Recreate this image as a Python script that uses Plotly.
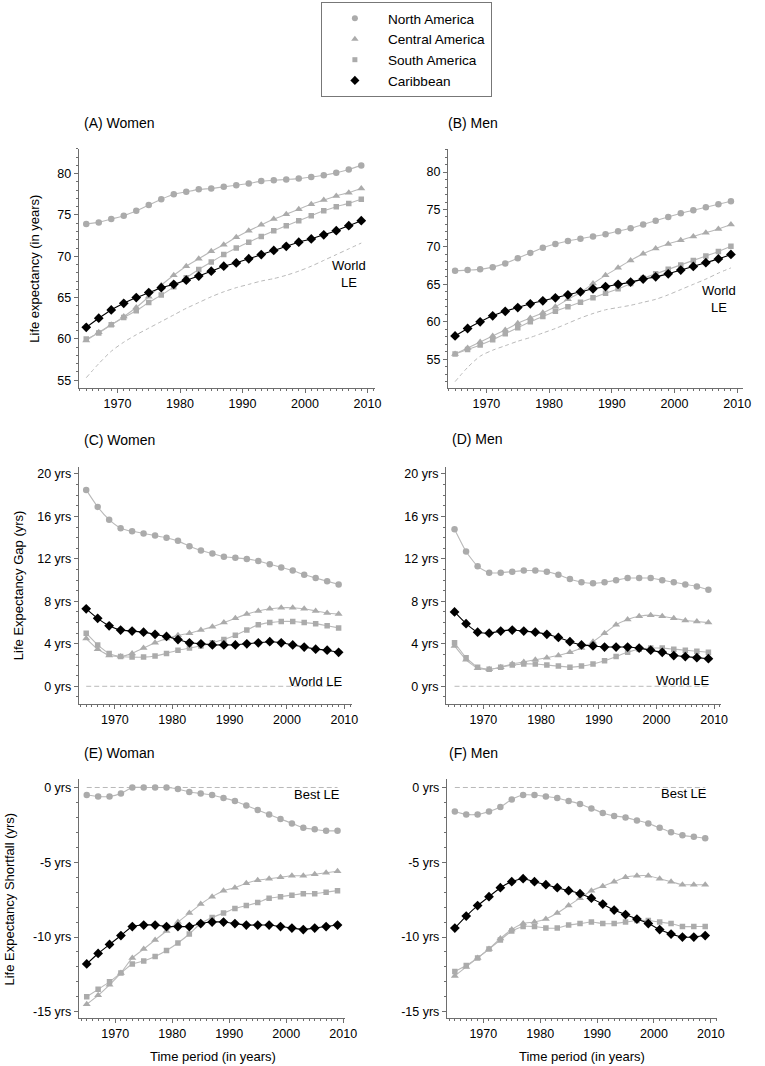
import plotly.graph_objects as go

# ---------------- data ----------------
years = list(range(1965, 2010, 2))
ref_years = [1965, 2009]
ref_zero = [0, 0]

series_names = ["North America", "Central America", "South America", "Caribbean"]

# (A) Women - life expectancy
na_w = [73.9, 74.1, 74.5, 74.9, 75.5, 76.2, 76.9, 77.5, 77.8, 78.1, 78.2, 78.4,
        78.6, 78.8, 79.1, 79.2, 79.3, 79.4, 79.6, 79.8, 80.1, 80.5, 81.0]
ca_w = [59.8, 60.8, 61.7, 62.7, 63.8, 65.1, 66.5, 67.7, 68.8, 69.7, 70.6, 71.4,
        72.3, 73.1, 73.8, 74.5, 75.1, 75.7, 76.3, 76.8, 77.3, 77.7, 78.2]
sa_w = [60.0, 60.7, 61.7, 62.6, 63.4, 64.4, 65.3, 66.3, 67.4, 68.4, 69.3, 70.2,
        71.0, 71.7, 72.4, 73.1, 73.7, 74.3, 74.9, 75.5, 76.0, 76.4, 76.9]
cb_w = [61.4, 62.5, 63.5, 64.3, 65.0, 65.6, 66.2, 66.6, 67.1, 67.6, 68.2, 68.8,
        69.2, 69.7, 70.2, 70.7, 71.2, 71.7, 72.1, 72.6, 73.1, 73.7, 74.3]
world_w = [55.3, 57.0, 58.5, 59.6, 60.5, 61.3, 62.1, 62.9, 63.7, 64.4, 65.1, 65.7,
           66.2, 66.6, 67.0, 67.3, 67.7, 68.2, 68.8, 69.5, 70.2, 70.9, 71.6]

# (B) Men - life expectancy
na_m = [66.8, 66.9, 67.0, 67.3, 67.8, 68.5, 69.2, 69.9, 70.4, 70.8, 71.1, 71.4,
        71.7, 72.1, 72.5, 73.0, 73.5, 74.0, 74.5, 74.9, 75.3, 75.7, 76.1]
ca_m = [55.7, 56.5, 57.3, 58.1, 58.9, 59.8, 60.5, 61.2, 62.0, 63.0, 63.9, 65.1,
        66.2, 67.2, 68.2, 69.1, 69.8, 70.4, 70.9, 71.4, 71.9, 72.4, 73.0]
sa_m = [55.7, 56.3, 56.9, 57.6, 58.4, 59.2, 60.0, 60.7, 61.4, 62.0, 62.6, 63.2,
        63.8, 64.4, 65.1, 65.8, 66.4, 67.0, 67.6, 68.2, 68.8, 69.4, 70.1]
cb_m = [58.1, 59.1, 60.0, 60.8, 61.4, 61.9, 62.4, 62.8, 63.2, 63.6, 64.0, 64.4,
        64.7, 65.0, 65.3, 65.7, 66.0, 66.4, 66.9, 67.4, 67.9, 68.4, 69.0]
world_m = [52.0, 53.9, 55.4, 56.2, 56.8, 57.4, 57.9, 58.5, 59.1, 59.8, 60.5, 61.1,
           61.6, 61.9, 62.2, 62.6, 63.0, 63.6, 64.3, 65.0, 65.7, 66.5, 67.2]

# (C) Women - gap to world LE
na_wg = [18.5, 16.9, 15.7, 14.9, 14.6, 14.4, 14.2, 14.0, 13.7, 13.2, 12.8, 12.5,
         12.2, 12.1, 12.0, 11.8, 11.5, 11.2, 10.9, 10.5, 10.2, 9.9, 9.6]
ca_wg = [4.5, 3.5, 2.9, 2.8, 3.1, 3.6, 4.1, 4.5, 4.8, 5.0, 5.3, 5.6,
         6.0, 6.4, 6.8, 7.1, 7.3, 7.4, 7.4, 7.3, 7.1, 6.9, 6.8]
sa_wg = [5.0, 3.9, 3.1, 2.8, 2.75, 2.75, 2.85, 3.1, 3.4, 3.6, 3.8, 4.1,
         4.4, 4.8, 5.3, 5.8, 6.0, 6.1, 6.1, 6.0, 5.9, 5.7, 5.5]
cb_wg = [7.3, 6.4, 5.7, 5.3, 5.2, 5.1, 4.9, 4.7, 4.4, 4.1, 4.0, 3.9,
         3.9, 3.9, 4.0, 4.1, 4.2, 4.1, 3.9, 3.7, 3.5, 3.4, 3.2]

# (D) Men - gap to world LE
na_mg = [14.8, 12.7, 11.3, 10.7, 10.7, 10.8, 10.9, 10.9, 10.8, 10.5, 10.1, 9.8,
         9.7, 9.8, 10.0, 10.2, 10.2, 10.2, 10.0, 9.8, 9.6, 9.4, 9.1]
ca_mg = [3.8, 2.5, 1.7, 1.6, 1.8, 2.1, 2.3, 2.5, 2.7, 2.9, 3.2, 3.6,
         4.2, 5.0, 5.8, 6.3, 6.6, 6.7, 6.6, 6.4, 6.2, 6.1, 6.0]
sa_mg = [4.1, 2.7, 1.8, 1.6, 1.8, 2.0, 2.1, 2.1, 2.0, 1.9, 1.8, 1.9,
         2.1, 2.4, 2.8, 3.2, 3.5, 3.6, 3.6, 3.5, 3.4, 3.3, 3.2]
cb_mg = [7.0, 5.9, 5.1, 5.0, 5.2, 5.3, 5.2, 5.1, 4.9, 4.6, 4.2, 3.9,
         3.8, 3.7, 3.7, 3.7, 3.6, 3.4, 3.2, 2.9, 2.8, 2.7, 2.6]

# (E) Women - shortfall from best LE
na_ws = [-0.5, -0.6, -0.6, -0.4, 0.0, 0.0, 0.0, 0.0, -0.1, -0.3, -0.4, -0.5,
         -0.7, -0.9, -1.2, -1.5, -1.8, -2.1, -2.4, -2.7, -2.8, -2.9, -2.9]
ca_ws = [-14.5, -13.9, -13.2, -12.4, -11.4, -10.8, -10.2, -9.6, -9.0, -8.4, -7.8, -7.3,
         -6.9, -6.7, -6.4, -6.2, -6.1, -6.0, -5.9, -5.9, -5.8, -5.7, -5.6]
sa_ws = [-14.0, -13.5, -13.0, -12.4, -11.8, -11.6, -11.3, -10.9, -10.4, -9.8, -9.1, -8.7,
         -8.4, -8.1, -7.9, -7.7, -7.4, -7.3, -7.2, -7.1, -7.1, -7.0, -6.9]
cb_ws = [-11.8, -11.1, -10.5, -9.9, -9.3, -9.2, -9.2, -9.3, -9.3, -9.3, -9.1, -9.0,
         -9.0, -9.1, -9.2, -9.2, -9.2, -9.3, -9.4, -9.5, -9.4, -9.3, -9.2]

# (F) Men - shortfall from best LE
na_ms = [-1.6, -1.8, -1.8, -1.6, -1.3, -0.8, -0.5, -0.5, -0.6, -0.7, -0.9, -1.1,
         -1.4, -1.7, -1.9, -2.0, -2.2, -2.4, -2.7, -3.0, -3.2, -3.3, -3.4]
ca_ms = [-12.6, -12.0, -11.4, -10.8, -10.1, -9.5, -9.1, -9.0, -8.8, -8.4, -7.9, -7.4,
         -6.9, -6.6, -6.3, -6.0, -5.9, -5.9, -6.1, -6.3, -6.5, -6.5, -6.5]
sa_ms = [-12.3, -11.9, -11.4, -10.8, -10.2, -9.6, -9.3, -9.3, -9.4, -9.4, -9.2, -9.1,
         -9.0, -9.1, -9.1, -9.0, -8.9, -8.9, -9.0, -9.1, -9.3, -9.3, -9.3]
cb_ms = [-9.4, -8.6, -7.9, -7.3, -6.7, -6.3, -6.1, -6.3, -6.5, -6.7, -6.9, -7.1,
         -7.4, -7.8, -8.2, -8.5, -8.8, -9.1, -9.5, -9.8, -10.0, -10.0, -9.9]

# tick labels
x_ticks = [1970, 1980, 1990, 2000, 2010]
le_ticks = [55, 60, 65, 70, 75, 80]
gap_ticks = [0, 4, 8, 12, 16, 20]
gap_labels = ["0 yrs", "4 yrs", "8 yrs", "12 yrs", "16 yrs", "20 yrs"]
sf_ticks = [-15, -10, -5, 0]
sf_labels = ["-15 yrs", "-10 yrs", "-5 yrs", "0 yrs"]

# ---------------- style ----------------
W, H = 765, 1066
FONT = "Liberation Sans, Arial, Helvetica, sans-serif"
GRAY = "#ababab"
LGRAY = "#b9b9b9"
AXC = "#6e6e6e"

styles = [
    dict(symbol="circle", size=6.5, color=GRAY, line=LGRAY),
    dict(symbol="triangle-up", size=7, color=GRAY, line=LGRAY),
    dict(symbol="square", size=5.5, color=GRAY, line=LGRAY),
    dict(symbol="diamond", size=7.5, color="#000000", line="#000000"),
]

def px_x(p):
    return p / W

def px_y(p):
    return 1 - p / H

panels = [
    dict(title="(A) Women", tpos=(83, 123), xd=(80, 381), yd=(149, 388),
         xr=(1963.8, 2011.2), yr=(54.1, 83.0), data=[na_w, ca_w, sa_w, cb_w],
         ref=("world", world_w), yt=le_ticks, ytl=[str(v) for v in le_ticks],
         ylab=("Life expectancy (in years)", 35), note=("World<br>LE", 355, 274, "center")),
    dict(title="(B) Men", tpos=(453, 123), xd=(455, 755), yd=(149, 388),
         xr=(1963.85, 2010.95), yr=(51.2, 83.1), data=[na_m, ca_m, sa_m, cb_m],
         ref=("world", world_m), yt=le_ticks, ytl=[str(v) for v in le_ticks],
         ylab=None, note=("World<br>LE", 730, 299, "center")),
    dict(title="(C) Women", tpos=(83, 440), xd=(80, 358), yd=(467, 705),
         xr=(1963.7, 2011.4), yr=(-1.7, 20.7), data=[na_wg, ca_wg, sa_wg, cb_wg],
         ref=("zero", None), yt=gap_ticks, ytl=gap_labels,
         ylab=("Life Expectancy Gap (yrs)", 19), note=("World LE", 350, 682, "right")),
    dict(title="(D) Men", tpos=(457, 439), xd=(453, 732), yd=(467, 705),
         xr=(1963.5, 2011.1), yr=(-1.7, 20.7), data=[na_mg, ca_mg, sa_mg, cb_mg],
         ref=("zero", None), yt=gap_ticks, ytl=gap_labels,
         ylab=None, note=("World LE", 723, 681, "right")),
    dict(title="(E) Woman", tpos=(83, 754), xd=(80, 351), yd=(780, 1019),
         xr=(1963.6, 2010.4), yr=(-15.42, 0.55), data=[na_ws, ca_ws, sa_ws, cb_ws],
         ref=("zero", None), yt=sf_ticks, ytl=sf_labels,
         ylab=("Life Expectancy Shortfall (yrs)", 10), note=("Best LE", 347, 795, "right"),
         xlab=("Time period (in years)", 216, 1057)),
    dict(title="(F) Men", tpos=(454, 754), xd=(454, 728), yd=(780, 1019),
         xr=(1963.6, 2011.0), yr=(-15.42, 0.55), data=[na_ms, ca_ms, sa_ms, cb_ms],
         ref=("zero", None), yt=sf_ticks, ytl=sf_labels,
         ylab=None, note=("Best LE", 720, 794, "right"),
         xlab=("Time period (in years)", 591, 1057)),
]

fig = go.Figure()
annotations = []
layout_axes = {}

for i, p in enumerate(panels, start=1):
    xa = "x" if i == 1 else f"x{i}"
    ya = "y" if i == 1 else f"y{i}"
    kind, vals = p["ref"]
    if kind == "world":
        fig.add_trace(go.Scatter(x=years, y=vals, mode="lines", xaxis=xa, yaxis=ya,
                                 line=dict(color=LGRAY, width=1, dash="4px,3px", shape="spline", smoothing=0.8),
                                 showlegend=False, hoverinfo="skip"))
    else:
        fig.add_trace(go.Scatter(x=ref_years, y=ref_zero, mode="lines", xaxis=xa, yaxis=ya,
                                 line=dict(color=LGRAY, width=1, dash="5px,3px"),
                                 showlegend=False, hoverinfo="skip"))
    for name, st, vals in zip(series_names, styles, p["data"]):
        fig.add_trace(go.Scatter(
            x=years, y=vals, mode="lines+markers", name=name, xaxis=xa, yaxis=ya,
            line=dict(color=st["line"], width=1.1, shape="spline", smoothing=0.5),
            marker=dict(symbol=st["symbol"], size=st["size"], color=st["color"],
                        line=dict(width=0)),
            showlegend=False))

    xkey = "xaxis" if i == 1 else f"xaxis{i}"
    ykey = "yaxis" if i == 1 else f"yaxis{i}"
    layout_axes[xkey] = dict(
        domain=[px_x(p["xd"][0]), px_x(p["xd"][1])], range=list(p["xr"]), anchor=ya,
        showline=True, linecolor=AXC, linewidth=1, showgrid=False, zeroline=False,
        ticks="outside", ticklen=4, tickcolor=AXC, tickwidth=1,
        tickmode="array", tickvals=x_ticks, ticktext=[str(v) for v in x_ticks],
        tickfont=dict(size=12.5, color="#000", family=FONT),
        minor=dict(ticks="outside", ticklen=2, tickcolor=AXC, tickmode="linear",
                   tick0=1960, dtick=1, showgrid=False),
        fixedrange=True)
    layout_axes[ykey] = dict(
        domain=[px_y(p["yd"][1]), px_y(p["yd"][0])], range=list(p["yr"]), anchor=xa,
        showline=True, linecolor=AXC, linewidth=1, showgrid=False, zeroline=False,
        ticks="outside", ticklen=4, tickcolor=AXC, tickwidth=1,
        tickmode="array", tickvals=p["yt"], ticktext=p["ytl"],
        tickfont=dict(size=12.5, color="#000", family=FONT),
        minor=dict(ticks="outside", ticklen=2, tickcolor=AXC, tickmode="linear",
                   tick0=0, dtick=1, showgrid=False),
        fixedrange=True)

    annotations.append(dict(text=p["title"], x=px_x(p["tpos"][0]), y=px_y(p["tpos"][1]),
                            xref="paper", yref="paper", xanchor="left", yanchor="middle",
                            showarrow=False, font=dict(size=14, color="#000", family=FONT)))
    if p["ylab"]:
        t, cx = p["ylab"]
        annotations.append(dict(text=t, x=px_x(cx), y=px_y((p["yd"][0] + p["yd"][1]) / 2),
                                xref="paper", yref="paper", xanchor="center", yanchor="middle",
                                textangle=-90, showarrow=False,
                                font=dict(size=13, color="#000", family=FONT)))
    t, nx, ny, al = p["note"]
    annotations.append(dict(text=t, x=px_x(nx), y=px_y(ny), xref="paper", yref="paper",
                            xanchor=al, yanchor="middle", align="center", showarrow=False,
                            font=dict(size=13, color="#000", family=FONT)))
    if p.get("xlab"):
        t, cx, cy = p["xlab"]
        annotations.append(dict(text=t, x=px_x(cx), y=px_y(cy), xref="paper", yref="paper",
                                xanchor="center", yanchor="middle", showarrow=False,
                                font=dict(size=13, color="#000", family=FONT)))

# legend-only traces (markers only, as in the reference legend)
for name, st in zip(series_names, styles):
    fig.add_trace(go.Scatter(x=[None], y=[None], mode="markers", name=name,
                             marker=dict(symbol=st["symbol"], size=st["size"] - 0.5, color=st["color"]),
                             showlegend=True, hoverinfo="skip"))

fig.update_layout(
    width=W, height=H,
    margin=dict(l=0, r=0, t=0, b=0),
    paper_bgcolor="white", plot_bgcolor="white",
    font=dict(family=FONT, size=13, color="#000"),
    showlegend=True,
    legend=dict(x=px_x(326), y=px_y(2), xanchor="left", yanchor="top",
                bordercolor="#777", borderwidth=1, bgcolor="white",
                font=dict(size=13.6, family=FONT, color="#000"),
                itemwidth=56, entrywidth=150, tracegroupgap=0, traceorder="normal"),
    annotations=annotations,
    **layout_axes,
)

fig.write_html("out.html", config={"displayModeBar": False},
               post_script="document.body.style.margin='0px';document.body.style.padding='0px';")
